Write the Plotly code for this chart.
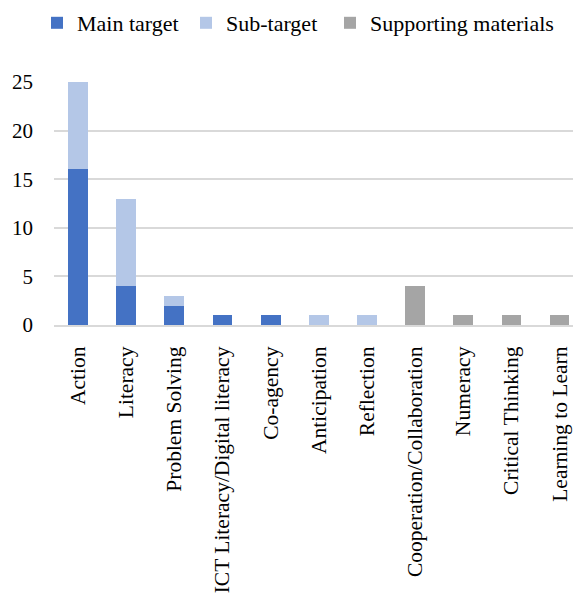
import plotly.graph_objects as go

categories = ["Action", "Literacy", "Problem Solving", "ICT Literacy/Digital literacy",
              "Co-agency", "Anticipation", "Reflection", "Cooperation/Collaboration",
              "Numeracy", "Critical Thinking", "Learning to Learn"]
main_target = [16, 4, 2, 1, 1, 0, 0, 0, 0, 0, 0]
sub_target = [9, 9, 1, 0, 0, 1, 1, 0, 0, 0, 0]
supporting = [0, 0, 0, 0, 0, 0, 0, 4, 1, 1, 1]
y_ticks = [0, 5, 10, 15, 20, 25]

FONT = "Liberation Serif"
W, H = 573, 601

fig = go.Figure()
fig.add_trace(go.Bar(name="Main target", x=categories, y=main_target,
                     marker=dict(color="#4472C4", line=dict(width=0)),
                     legend="legend"))
fig.add_trace(go.Bar(name="Sub-target", x=categories, y=sub_target,
                     marker=dict(color="#B4C7E7", line=dict(width=0)),
                     legend="legend2"))
fig.add_trace(go.Bar(name="Supporting materials", x=categories, y=supporting,
                     marker=dict(color="#A5A5A5", line=dict(width=0)),
                     legend="legend3"))


def legend_at(px, py):
    # one legend box per series, placed in container pixels
    return dict(xref="container", yref="container",
                x=px / W, y=1 - py / H, xanchor="left", yanchor="middle",
                orientation="h", font=dict(family=FONT, size=22, color="black"),
                itemwidth=30, bgcolor="rgba(0,0,0,0)", borderwidth=0,
                visible=True)


fig.update_layout(
    barmode="stack",
    bargap=0.59,
    width=W, height=H,
    showlegend=True,
    margin=dict(l=54, r=0, t=82, b=276),
    paper_bgcolor="white", plot_bgcolor="white",
    font=dict(family=FONT, size=21, color="black"),
    legend=legend_at(37, 23),
    legend2=legend_at(186, 23),
    legend3=legend_at(330, 23),
    xaxis=dict(range=[-0.5, 10.28], tickangle=-90, showline=True,
               linecolor="#D9D9D9", linewidth=2, ticks="",
               tickfont=dict(family=FONT, size=21.5, color="black"),
               ticklabelstandoff=11),
    yaxis=dict(range=[0, 25], tickvals=y_ticks, showgrid=True,
               gridcolor="#D9D9D9", gridwidth=2, zeroline=False,
               tickfont=dict(family=FONT, size=21, color="black"), ticks="",
               ticklabelstandoff=20),
)

fig.write_html("out.html")
